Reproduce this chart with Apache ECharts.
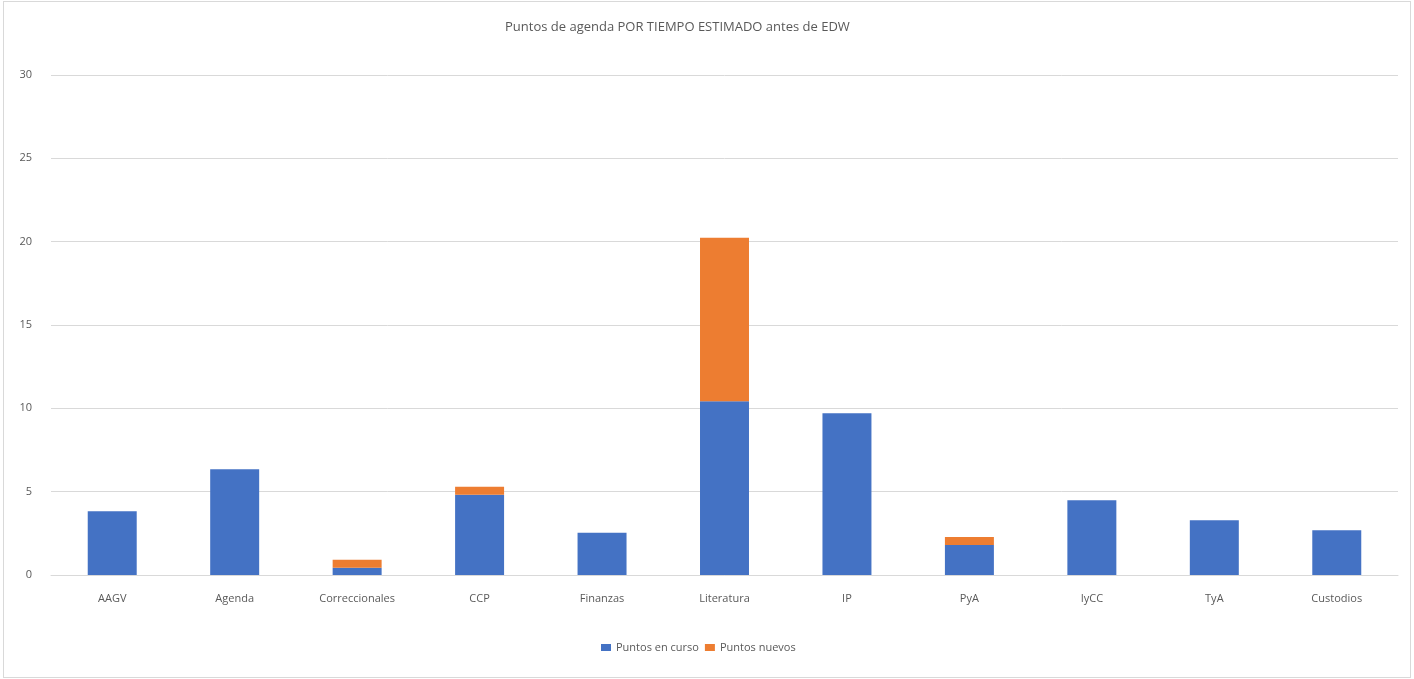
<!DOCTYPE html>
<html>
<head>
<meta charset="utf-8">
<script src="https://cdn.jsdelivr.net/npm/echarts@6/dist/echarts.min.js"></script>
<style>
  html, body { margin: 0; padding: 0; background: #fff; }
  #chart { position: absolute; left: 3px; top: 1px; width: 1406px; height: 675px; border: 1px solid #d9d9d9; }
</style>
</head>
<body>
<div id="chart"></div>
<script>
// categories and values
const categories = ['AAGV', 'Agenda', 'Correccionales', 'CCP', 'Finanzas', 'Literatura', 'IP', 'PyA', 'IyCC', 'TyA', 'Custodios'];
const puntosEnCurso = [3.83, 6.35, 0.44, 4.81, 2.53, 10.42, 9.7, 1.8, 4.49, 3.29, 2.69];
const puntosNuevos = [0, 0, 0.48, 0.48, 0, 9.82, 0, 0.48, 0, 0, 0];
const yTicks = [0, 5, 10, 15, 20, 25, 30];

let myChart = echarts.init(document.getElementById('chart'));
const txt = '#595959';
const font = 'Open Sans';

myChart.setOption({
  animation: false,
  title: {
    text: 'Puntos de agenda POR TIEMPO ESTIMADO antes de EDW',
    left: 496,
    top: 14,
    textStyle: { color: txt, fontSize: 13, fontWeight: 'normal', fontFamily: font }
  },
  legend: {
    left: 592,
    top: 635,
    itemWidth: 10,
    itemHeight: 7,
    itemGap: 6,
    icon: 'rect',
    textStyle: { color: txt, fontSize: 11, fontFamily: font }
  },
  grid: { left: 47, right: 12, top: 73, bottom: 102 },
  xAxis: {
    type: 'category',
    data: categories,
    axisTick: { show: false },
    axisLine: { lineStyle: { color: '#d9d9d9', width: 1 } },
    axisLabel: { color: txt, fontSize: 11, fontFamily: font, margin: 18 }
  },
  yAxis: {
    type: 'value',
    min: yTicks[0],
    max: yTicks[yTicks.length - 1],
    interval: 5,
    axisLine: { show: false },
    axisTick: { show: false },
    splitLine: { lineStyle: { color: '#d9d9d9', width: 1 } },
    axisLabel: { color: txt, fontSize: 11, fontFamily: font, margin: 19, verticalAlign: 'middle', padding: [0, 0, 6, 0] }
  },
  series: [
    {
      name: 'Puntos en curso',
      type: 'bar',
      stack: 'total',
      barCategoryGap: '60%',
      itemStyle: { color: '#4472c4' },
      data: puntosEnCurso
    },
    {
      name: 'Puntos nuevos',
      type: 'bar',
      stack: 'total',
      barCategoryGap: '60%',
      itemStyle: { color: '#ed7d31' },
      data: puntosNuevos
    }
  ]
});
</script>
</body>
</html>
